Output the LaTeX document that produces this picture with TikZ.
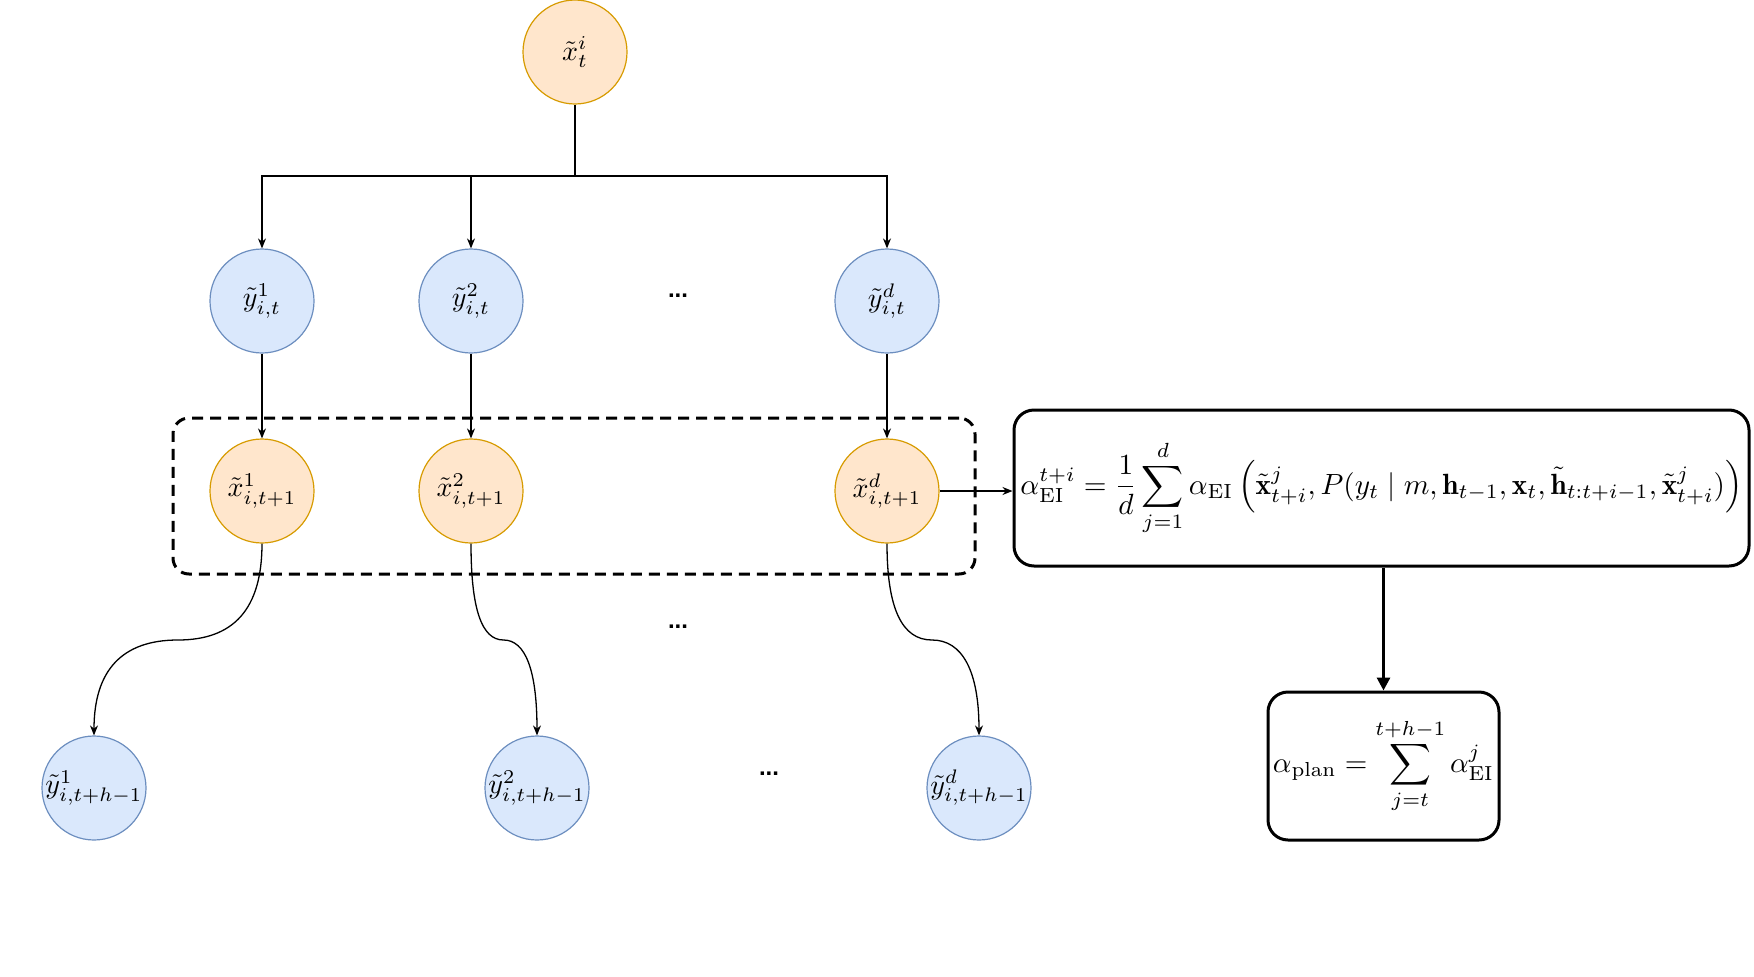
\documentclass[tikz,border=0pt]{standalone}
\usepackage{amsmath}
\usepackage{fontspec}
\newfontfamily\dotsfont{Liberation Sans}
\usetikzlibrary{arrows.meta}
\definecolor{orangefill}{HTML}{FFE6CC}
\definecolor{orangeline}{HTML}{D79B00}
\definecolor{bluefill}{HTML}{DAE8FC}
\definecolor{blueline}{HTML}{6C8EBF}
\newcommand{\lbl}[1]{\scalebox{2.8}{$#1$}}
\begin{document}
\begin{tikzpicture}[x=1pt,y=-1pt,
  orangenode/.style={circle, draw=orangeline, fill=orangefill, line width=1.2pt, minimum size=104pt, inner sep=0pt},
  bluenode/.style={circle, draw=blueline, fill=bluefill, line width=1.2pt, minimum size=104pt, inner sep=0pt},
  arr/.style={-{Stealth[length=10pt,width=8pt]}, line width=1.3pt},
  plainline/.style={line width=1.3pt},
  thickarr/.style={-{Triangle[length=13pt,width=13pt]}, line width=3pt},
  eqbox/.style={draw, line width=3pt, rounded corners=20pt, inner sep=0pt},
  dashbox/.style={draw, line width=3pt, dash pattern=on 11pt off 7pt, rounded corners=16pt, inner sep=0pt},
  dotlabel/.style={font=\dotsfont\bfseries\fontsize{24}{28}\selectfont, inner sep=0pt}
]
\useasboundingbox (0,0) rectangle (1754,977);

% dashed group
\node[dashbox, minimum width=802pt, minimum height=156pt] (group) at (574,496) {};

% nodes
\node[orangenode] (xt) at (575,52) {\lbl{\tilde{x}^{i}_{t}}};

\node[bluenode] (y1) at (262,301) {\lbl{\tilde{y}^{1}_{i,t}}};
\node[bluenode] (y2) at (471,301) {\lbl{\tilde{y}^{2}_{i,t}}};
\node[bluenode] (yd) at (887,301) {\lbl{\tilde{y}^{d}_{i,t}}};

\node[orangenode] (x1) at (262,491) {\lbl{\tilde{x}^{1}_{i,t+1}}};
\node[orangenode] (x2) at (471,491) {\lbl{\tilde{x}^{2}_{i,t+1}}};
\node[orangenode] (xd) at (887,491) {\lbl{\tilde{x}^{d}_{i,t+1}}};

\node[bluenode] (b1) at (94,788) {\lbl{\tilde{y}^{1}_{i,t+h-1}}};
\node[bluenode] (b2) at (537,788) {\lbl{\tilde{y}^{2}_{i,t+h-1}}};
\node[bluenode] (bd) at (979,788) {\lbl{\tilde{y}^{d}_{i,t+h-1}}};

\node[dotlabel] (dots1) at (678,296) {...};
\node[dotlabel] (dots2) at (678,627) {...};
\node[dotlabel] (dots3) at (769,774) {...};

\node[eqbox, minimum width=735pt, minimum height=156pt] (eibox) at (1381.5,488)
  {\resizebox{722pt}{!}{$\displaystyle \alpha^{t+i}_{\mathrm{EI}} = \frac{1}{d}\sum_{j=1}^{d}\alpha_{\mathrm{EI}}\left(\tilde{\mathbf{x}}^{j}_{t+i}, P(y_t \mid m, \mathbf{h}_{t-1}, \mathbf{x}_t, \tilde{\mathbf{h}}_{t:t+i-1}, \tilde{\mathbf{x}}^{j}_{t+i})\right)$}};

\node[eqbox, minimum width=231pt, minimum height=148pt] (planbox) at (1383.5,766)
  {\resizebox{221pt}{!}{$\displaystyle \alpha_{\mathrm{plan}} = \sum_{j=t}^{t+h-1}\alpha^{j}_{\mathrm{EI}}$}};

% connectors
\coordinate (bus) at (575,176);
\draw[plainline] (xt.south) -- (bus);
\draw[arr] (bus) -| (y1.north);
\draw[arr] (bus) -| (y2.north);
\draw[arr] (bus) -| (yd.north);

\draw[arr] (y1) -- (x1);
\draw[arr] (y2) -- (x2);
\draw[arr] (yd) -- (xd);

\coordinate (m1) at (178,640);
\coordinate (m2) at (503.5,640);
\coordinate (m3) at (932,640);
\draw[arr] (x1.south) .. controls +(0,65) and +(56,0) .. (m1) .. controls +(-56,0) and +(0,-65) .. (b1.north);
\draw[arr] (x2.south) .. controls +(0,65) and +(-22,0) .. (m2) .. controls +(22,0) and +(0,-65) .. (b2.north);
\draw[arr] (xd.south) .. controls +(0,65) and +(-30,0) .. (m3) .. controls +(30,0) and +(0,-65) .. (bd.north);

\draw[arr] (xd.east) -- (xd.east -| eibox.west);
\draw[thickarr] (eibox.south -| planbox.north) -- (planbox.north);
\end{tikzpicture}
\end{document}
